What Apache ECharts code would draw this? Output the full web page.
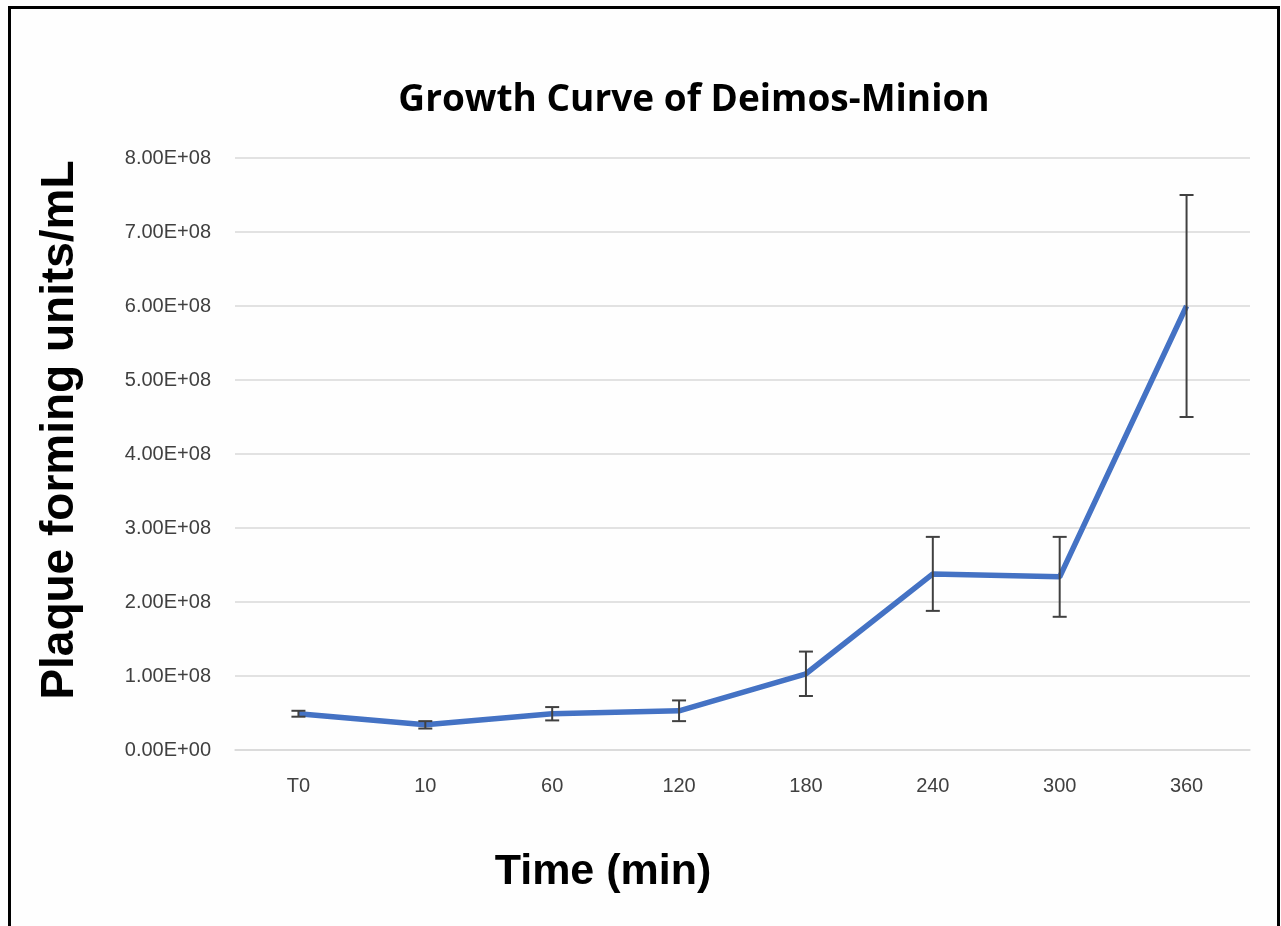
<!DOCTYPE html>
<html>
<head>
<meta charset="utf-8">
<script src="https://cdn.jsdelivr.net/npm/echarts@6/dist/echarts.min.js"></script>
<style>
html,body{margin:0;padding:0;background:#fff;}
#c{width:1281px;height:926px;}
</style>
</head>
<body>
<div id="c"></div>
<script>
const categories = ['T0', '10', '60', '120', '180', '240', '300', '360'];
const pfuMean = [4.9e7, 3.4e7, 4.9e7, 5.3e7, 1.03e8, 2.38e8, 2.34e8, 6.0e8];
const pfuError = [0.4e7, 0.5e7, 0.9e7, 1.4e7, 0.3e8, 0.5e8, 0.54e8, 1.5e8];
const yTicks = [0, 1e8, 2e8, 3e8, 4e8, 5e8, 6e8, 7e8, 8e8];

const chart = echarts.init(document.getElementById('c'), null, {renderer: 'canvas'});

const errData = categories.map((c, i) => [i, pfuMean[i], pfuError[i]]);

const option = {
  backgroundColor: '#fefefe',
  animation: false,
  grid: {left: 235, right: 31, top: 158, bottom: 176},
  xAxis: {
    type: 'category',
    data: categories,
    boundaryGap: true,
    axisLine: {show: true, lineStyle: {color: '#d9d9d9', width: 1.5}},
    axisTick: {show: false},
    axisLabel: {color: '#404040', fontSize: 20, fontFamily: 'Liberation Sans', margin: 26}
  },
  yAxis: {
    type: 'value',
    min: yTicks[0],
    max: yTicks[yTicks.length - 1],
    interval: 1e8,
    axisLine: {show: false},
    axisTick: {show: false},
    splitLine: {lineStyle: {color: '#d9d9d9', width: 1.5}},
    axisLabel: {
      color: '#404040', fontSize: 20, fontFamily: 'Liberation Sans', margin: 24,
      formatter: v => {
        if (v === 0) return '0.00E+00';
        const e = Math.floor(Math.log10(v));
        const m = v / Math.pow(10, e);
        return m.toFixed(2) + 'E+' + String(e).padStart(2, '0');
      }
    }
  },
  series: [
    {
      type: 'line',
      data: pfuMean,
      symbol: 'none',
      lineStyle: {color: '#4472C4', width: 5.5},
      z: 2
    },
    {
      type: 'custom',
      data: errData,
      z: 3,
      renderItem: (params, api) => {
        const i = api.value(0), m = api.value(1), e = api.value(2);
        const top = api.coord([i, m + e]);
        const bot = api.coord([i, m - e]);
        const hw = 7;
        const style = {stroke: '#404040', lineWidth: 2};
        return {
          type: 'group',
          children: [
            {type: 'line', shape: {x1: top[0], y1: top[1], x2: bot[0], y2: bot[1]}, style},
            {type: 'line', shape: {x1: top[0] - hw, y1: top[1], x2: top[0] + hw, y2: top[1]}, style},
            {type: 'line', shape: {x1: bot[0] - hw, y1: bot[1], x2: bot[0] + hw, y2: bot[1]}, style}
          ]
        };
      }
    }
  ],
  graphic: [
    {
      type: 'rect', shape: {x: 9.5, y: 7.5, width: 1269, height: 940},
      style: {fill: 'none', stroke: '#000', lineWidth: 3}, silent: true
    },
    {
      type: 'text', x: 694, y: 100,
      style: {text: 'Growth Curve of Deimos-Minion', font: 'bold 37px "Open Sans"', fill: '#000', textAlign: 'center', textVerticalAlign: 'middle'}
    },
    {
      type: 'text', x: 60, y: 430, rotation: Math.PI / 2,
      style: {text: 'Plaque forming units/mL', font: 'bold 46px "Liberation Sans"', fill: '#000', textAlign: 'center', textVerticalAlign: 'middle'}
    },
    {
      type: 'text', x: 603, y: 872,
      style: {text: 'Time (min)', font: 'bold 43px "Liberation Sans"', fill: '#000', textAlign: 'center', textVerticalAlign: 'middle'}
    }
  ]
};
chart.setOption(option);
</script>
</body>
</html>
